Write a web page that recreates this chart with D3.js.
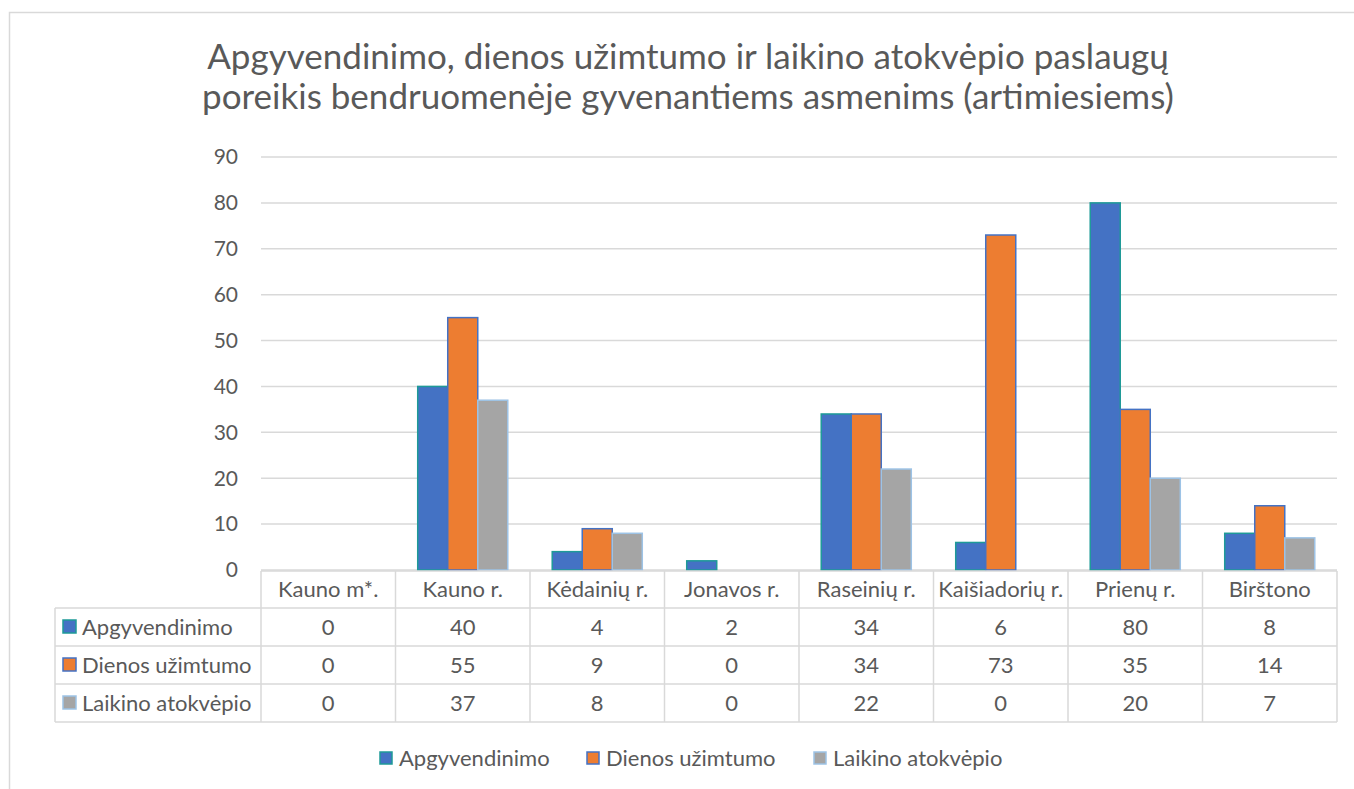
<!DOCTYPE html>
<html lang="lt">
  <head>
    <meta charset="UTF-8" />
    <title>Paslaugų poreikis</title>
    <style>
      body { margin: 0; background: #fff; }
      text { font-family: Lato, 'Open Sans', sans-serif; fill: #595959; }
    </style>
    <script src="https://d3js.org/d3.v7.min.js"></script>
  </head>
  <body>
    <div class="chart"></div>
    <script>
      const categories = ['Kauno m*.', 'Kauno r.', 'Kėdainių r.', 'Jonavos r.', 'Raseinių r.', 'Kaišiadorių r.', 'Prienų r.', 'Birštono']
      const seriesNames = ['Apgyvendinimo', 'Dienos užimtumo', 'Laikino atokvėpio']
      const apgyvendinimo = [0, 40, 4, 2, 34, 6, 80, 8]
      const dienosUzimtumo = [0, 55, 9, 0, 34, 73, 35, 14]
      const laikinoAtokvepio = [0, 37, 8, 0, 22, 0, 20, 7]
      const yTicks = [0, 10, 20, 30, 40, 50, 60, 70, 80, 90]
      const titleLines = ['Apgyvendinimo, dienos užimtumo ir laikino atokvėpio paslaugų', 'poreikis bendruomenėje gyvenantiems asmenims (artimiesiems)']

      const seriesValues = [apgyvendinimo, dienosUzimtumo, laikinoAtokvepio]
      const fills = ['#4472C4', '#ED7D31', '#A5A5A5']
      const strokes = ['#1E9A98', '#4472C4', '#9DC3E6']

      const width = 1354
      const height = 789
      const plot = { left: 261, right: 1337, top: 157, bottom: 570 }
      const rowH = 38

      const svg = d3.select('.chart').append('svg').attr('width', width).attr('height', height)

      // rėmelis
      svg.append('rect')
        .attr('x', 9.5).attr('y', 12.5).attr('width', 1400).attr('height', 900)
        .attr('fill', 'none').attr('stroke', '#d9d9d9').attr('stroke-width', 1.5)

      // pavadinimas
      svg.append('g').selectAll('text').data(titleLines).join('text')
        .attr('x', 688).attr('y', (d, i) => 69 + i * 40)
        .attr('text-anchor', 'middle')
        .style('font-size', '35px')
        .text((d) => d)

      const x = d3.scaleBand().domain(categories).range([plot.left, plot.right])
      const x1 = d3.scaleBand().domain(seriesNames).range([0, x.bandwidth()]).paddingOuter(0.74)
      const y = d3.scaleLinear().domain([0, 90]).range([plot.bottom, plot.top])

      // tinklelis
      svg.append('g').selectAll('line').data(yTicks).join('line')
        .attr('x1', plot.left).attr('x2', plot.right)
        .attr('y1', (d) => y(d)).attr('y2', (d) => y(d))
        .attr('stroke', '#d9d9d9').attr('stroke-width', 1.5)

      svg.append('g').selectAll('text').data(yTicks).join('text')
        .attr('x', 238).attr('y', (d) => y(d)).attr('dy', '0.35em')
        .attr('text-anchor', 'end')
        .style('font-size', '21px')
        .text((d) => d)

      // stulpeliai
      const bars = []
      seriesNames.forEach((s, si) => {
        categories.forEach((c, ci) => bars.push({ s, si, c, v: seriesValues[si][ci] }))
      })
      svg.append('g').selectAll('rect').data(bars.filter((d) => d.v > 0)).join('rect')
        .attr('x', (d) => x(d.c) + x1(d.s))
        .attr('y', (d) => y(d.v))
        .attr('width', x1.bandwidth())
        .attr('height', (d) => y(0) - y(d.v))
        .attr('fill', (d) => fills[d.si])
        .attr('stroke', (d) => strokes[d.si])
        .attr('stroke-width', 1.5)

      // duomenų lentelė
      const table = svg.append('g')
      const tableLeft = 55
      const headTop = plot.bottom + 1
      const gridColor = '#d9d9d9'
      const hLines = [
        { x1: plot.left, y: headTop },
        { x1: tableLeft, y: headTop + 37 },
        { x1: tableLeft, y: headTop + 37 + rowH },
        { x1: tableLeft, y: headTop + 37 + rowH * 2 },
        { x1: tableLeft, y: headTop + 37 + rowH * 3 }
      ]
      table.selectAll('.h').data(hLines).join('line')
        .attr('x1', (d) => d.x1).attr('x2', plot.right)
        .attr('y1', (d) => d.y).attr('y2', (d) => d.y)
        .attr('stroke', gridColor).attr('stroke-width', 1.5)
      const bottomY = headTop + 37 + rowH * 3
      const colEdges = categories.map((c) => x(c)).concat([plot.right])
      table.selectAll('.v').data(colEdges).join('line')
        .attr('x1', (d) => d).attr('x2', (d) => d)
        .attr('y1', headTop).attr('y2', bottomY)
        .attr('stroke', gridColor).attr('stroke-width', 1.5)
      table.append('line')
        .attr('x1', tableLeft).attr('x2', tableLeft)
        .attr('y1', headTop + 37).attr('y2', bottomY)
        .attr('stroke', gridColor).attr('stroke-width', 1.5)

      table.selectAll('.head').data(categories).join('text')
        .attr('x', (d) => x(d) + x.bandwidth() / 2)
        .attr('y', headTop + 18.5).attr('dy', '0.35em')
        .attr('text-anchor', 'middle')
        .style('font-size', '22px')
        .text((d) => d)

      seriesNames.forEach((s, si) => {
        const cy = headTop + 37 + rowH * si + rowH / 2
        table.append('rect')
          .attr('x', 63).attr('y', cy - 7).attr('width', 13).attr('height', 13)
          .attr('fill', fills[si]).attr('stroke', strokes[si]).attr('stroke-width', 1.5)
        table.append('text')
          .attr('x', 82).attr('y', cy).attr('dy', '0.35em')
          .style('font-size', '22px')
          .text(s)
        table.append('g').selectAll('text').data(seriesValues[si]).join('text')
          .attr('x', (d, i) => x(categories[i]) + x.bandwidth() / 2)
          .attr('y', cy).attr('dy', '0.35em')
          .attr('text-anchor', 'middle')
          .style('font-size', '22px')
          .text((d) => d)
      })

      // legenda
      const legendX = [380, 587, 814]
      const legend = svg.append('g').selectAll('g').data(seriesNames).join('g')
        .attr('transform', (d, i) => `translate(${legendX[i]}, 758)`)
      legend.append('rect')
        .attr('x', 0).attr('y', -6).attr('width', 12).attr('height', 12)
        .attr('fill', (d, i) => fills[i]).attr('stroke', (d, i) => strokes[i]).attr('stroke-width', 1.5)
      legend.append('text')
        .attr('x', 19).attr('y', 0).attr('dy', '0.35em')
        .style('font-size', '22px')
        .text((d) => d)
    </script>
  </body>
</html>
